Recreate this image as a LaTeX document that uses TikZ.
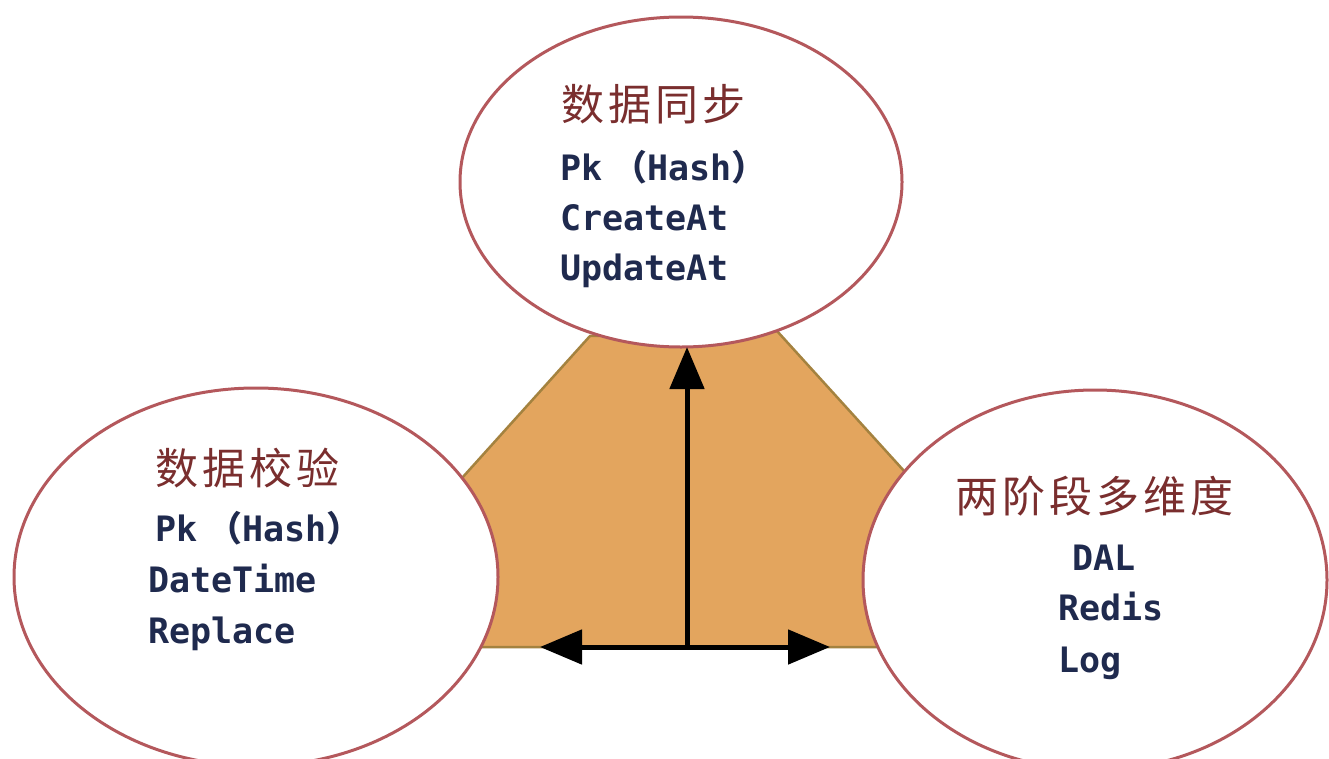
\documentclass[tikz,border=0pt]{standalone}
\usepackage{fontspec}
\usetikzlibrary{shapes.geometric,arrows.meta}
\newfontfamily\cjkfont{Noto Sans CJK SC}
\newfontfamily\latinmono{DejaVu Sans Mono}
\definecolor{ringred}{HTML}{B4585C}
\definecolor{orangefill}{HTML}{E3A55E}
\definecolor{orangeedge}{HTML}{A4823F}
\definecolor{titlered}{HTML}{7A2E2E}
\definecolor{navytext}{HTML}{1F2A4E}
\newcommand\cjkgap{\hspace{4pt}}
\tikzset{
  bubble/.style={ellipse, draw=ringred, line width=3pt, fill=white, inner sep=0pt},
  titletext/.style={anchor=base west, inner sep=0pt, text=titlered, font=\cjkfont\fontsize{43}{43}\selectfont},
  itemtext/.style={anchor=base west, inner sep=0pt, text=navytext, font=\latinmono\bfseries\fontsize{35}{35}\selectfont},
  bigarrow/.style={line width=5pt, -{Triangle[length=42pt,width=34pt]}},
}
\begin{document}
\begin{tikzpicture}[x=1pt,y=-1pt]
\useasboundingbox (0,0) rectangle (1329,758);
\clip (0,0) rectangle (1329,758);
\fill[white] (0,0) rectangle (1329,758);
% orange polygon
\draw[fill=orangefill, draw=orangeedge, line width=2.5pt, line join=miter]
  (590,336) -- (462,478) -- (462,647) -- (905,647) -- (905,472) -- (777,331) -- cycle;
% ellipses
\node[bubble, minimum width=442pt, minimum height=330pt] (sync) at (681,182) {};
\node[bubble, minimum width=484pt, minimum height=378pt] (check) at (256,577) {};
\node[bubble, minimum width=464pt, minimum height=380pt] (multi) at (1095,580) {};
% arrows
\coordinate (hub) at (687,647);
\coordinate (uptip) at (687,347);
\coordinate (lefttip) at (540,647);
\coordinate (righttip) at (830,647);
\draw[bigarrow] (hub) -- (uptip);
\draw[bigarrow] (hub) -- (lefttip);
\draw[bigarrow] (hub) -- (righttip);
% top texts
\node[titletext] (t1) at (561,120) {数\cjkgap 据\cjkgap 同\cjkgap 步};
\node[itemtext] (t2) at (560,180) {Pk\hspace{10pt}{\cjkfont （}Hash{\cjkfont ）}};
\node[itemtext] (t3) at (560,230) {CreateAt};
\node[itemtext] (t4) at (560,280) {UpdateAt};
% left texts
\node[titletext] (l1) at (155,484) {数\cjkgap 据\cjkgap 校\cjkgap 验};
\node[itemtext] (l2) at (155,541) {Pk\hspace{10pt}{\cjkfont （}Hash{\cjkfont ）}};
\node[itemtext] (l3) at (148,592) {DateTime};
\node[itemtext] (l4) at (148,643) {Replace};
% right texts
\node[titletext] (r1) at (955,512) {两\cjkgap 阶\cjkgap 段\cjkgap 多\cjkgap 维\cjkgap 度};
\node[itemtext] (r2) at (1072,570) {DAL};
\node[itemtext] (r3) at (1058,620) {Redis};
\node[itemtext] (r4) at (1058,672) {Log};
\end{tikzpicture}
\end{document}
